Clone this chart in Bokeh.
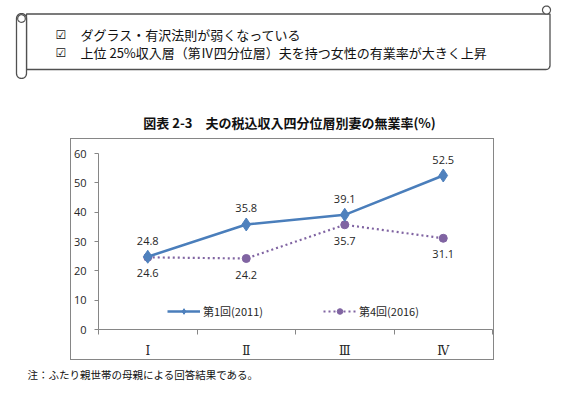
import numpy as np
from bokeh.plotting import figure
from bokeh.layouts import column, row
from bokeh.models import (Range1d, FixedTicker, ColumnDataSource, LabelSet,
                          Legend, LegendItem, Spacer)
from bokeh.core.properties import value
from bokeh.embed import file_html
from bokeh.resources import INLINE

# ---------------- data ----------------
categories = ["Ⅰ", "Ⅱ", "Ⅲ", "Ⅳ"]
series1_name = "第1回(2011)"
series1 = [24.8, 35.8, 39.1, 52.5]
series2_name = "第4回(2016)"
series2 = [24.6, 24.2, 35.7, 31.1]
y_ticks = [0, 10, 20, 30, 40, 50, 60]
title_text = "図表 2-3　夫の税込収入四分位層別妻の無業率(%)"
banner_lines = ["ダグラス・有沢法則が弱くなっている",
                "上位 25%収入層（第Ⅳ四分位層）夫を持つ女性の有業率が大きく上昇"]
check_mark = "☑"
note_text = "注：ふたり親世帯の母親による回答結果である。"

JP = "Noto Sans CJK JP"
BLUE = "#4A7EBB"
BLUE_FILL = "#4F81BD"
PURPLE = "#8064A2"
AXIS = "#868686"
DECO = "#505050"


def canvas_fig(w, h):
    """A figure whose frame is its whole canvas, in pixel units (y downward)."""
    f = figure(width=w, height=h, x_range=Range1d(0, w), y_range=Range1d(h, 0),
               x_axis_location=None, y_axis_location=None, title=None,
               output_backend="svg", toolbar_location=None, min_border=0)
    f.outline_line_color = None
    f.grid.visible = False
    f.background_fill_alpha = 0
    f.border_fill_alpha = 0
    return f


def arc(cx, cy, r, a0, a1, n=24):
    t = np.linspace(a0, a1, n)
    return list(cx + r * np.cos(t)), list(cy + r * np.sin(t))


# ---------------- top: banner + title ----------------
top = canvas_fig(566, 138)
ax, ay = arc(545.5, 65, 4, 0, np.pi / 2, 10)
top.patch([26, 549.5, 549.5] + ax + [26], [13.5, 13.5, 65] + ay + [69],
          fill_color="white", line_color=DECO, line_width=1.3)
cx_, cy_ = arc(546, 9.5, 4, 0, 2 * np.pi, 40)
top.patch(cx_, cy_, fill_color="white", line_color=DECO, line_width=1.2)
tx, ty = arc(21, 18, 5, np.pi, 2 * np.pi, 16)
bx, by = arc(21, 73, 5, 0, np.pi, 16)
top.patch(tx + bx, ty + by, fill_color="white", line_color=DECO, line_width=1.3)
lx, ly = arc(21, 18, 3.8, 0, 2 * np.pi, 40)
top.patch(lx, ly, fill_color="white", line_color=DECO, line_width=1.2)

rows_y = [34, 52]
top.text(x=[55] * len(banner_lines), y=rows_y, text=[check_mark] * len(banner_lines),
         text_font=value("DejaVu Sans"), text_font_size="12px", text_font_style="bold",
         text_baseline="middle", text_color="#111111")
top.text(x=[80] * len(banner_lines), y=rows_y, text=banner_lines,
         text_font=value(JP), text_font_size="13px", text_baseline="middle",
         text_color="#111111")
top.text(x=[289], y=[122], text=[title_text], text_font=value(JP), text_font_size="13px",
         text_font_style="bold", text_align="center", text_baseline="middle",
         text_color="#111111")

# ---------------- middle: chart (its box outline is the chart frame) ----------------
MID_H = 222
xs = [i + 0.5 for i in range(len(categories))]

p = figure(width=424, height=MID_H, x_range=Range1d(0, len(categories)),
           y_range=Range1d(y_ticks[0], y_ticks[-1]), title=None,
           output_backend="svg", toolbar_location=None,
           min_border_left=28, min_border_right=2, min_border_top=15, min_border_bottom=31,
           styles={"outline": f"1px solid {AXIS}", "outline-offset": "-1px"})
p.outline_line_color = None
p.grid.visible = False
p.background_fill_alpha = 0
p.border_fill_alpha = 0

p.yaxis.ticker = FixedTicker(ticks=y_ticks, minor_ticks=[])
p.yaxis.axis_line_color = AXIS
p.yaxis.major_tick_line_color = AXIS
p.yaxis.major_tick_out = 4
p.yaxis.major_tick_in = 0
p.yaxis.minor_tick_line_color = None
p.yaxis.major_label_text_font = "Open Sans"
p.yaxis.major_label_text_font_size = "11px"
p.yaxis.major_label_text_color = "#262626"
p.yaxis.major_label_standoff = 8

p.xaxis.ticker = FixedTicker(ticks=xs, minor_ticks=list(range(len(categories) + 1)))
p.xaxis.major_label_overrides = {x: c for x, c in zip(xs, categories)}
p.xaxis.axis_line_color = AXIS
p.xaxis.major_tick_line_color = None
p.xaxis.minor_tick_line_color = AXIS
p.xaxis.minor_tick_out = 5
p.xaxis.minor_tick_in = 0
p.xaxis.major_label_text_font = "DejaVu Serif"
p.xaxis.major_label_text_font_size = "12px"
p.xaxis.major_label_text_color = "#262626"
p.xaxis.major_label_standoff = 8

src = ColumnDataSource(dict(x=xs, s1=series1, s2=series2,
                            t1=[f"{v:.1f}" for v in series1],
                            t2=[f"{v:.1f}" for v in series2]))

l2 = p.line("x", "s2", source=src, line_color=PURPLE, line_width=2.2, line_dash="2 3")
m2 = p.scatter("x", "s2", source=src, marker="circle", size=8, fill_color=PURPLE, line_color=PURPLE)
l1 = p.line("x", "s1", source=src, line_color=BLUE, line_width=2.5)
m1 = p.scatter("x", "s1", source=src, marker="diamond", size=13, fill_color=BLUE_FILL, line_color=BLUE_FILL)

p.add_layout(LabelSet(x="x", y="s1", text="t1", source=src, y_offset=16, text_align="center",
                      text_baseline="middle", text_font=value("Open Sans"), text_font_size="11px",
                      text_color="#262626"))
p.add_layout(LabelSet(x="x", y="s2", text="t2", source=src, y_offset=-16, text_align="center",
                      text_baseline="middle", text_font=value("Open Sans"), text_font_size="11px",
                      text_color="#262626"))

legend = Legend(items=[LegendItem(label=series1_name, renderers=[l1, m1]),
                       LegendItem(label=series2_name, renderers=[l2, m2])],
                orientation="horizontal", location=(69, 10), padding=0, margin=0,
                spacing=60, glyph_width=33, glyph_height=14, label_standoff=3,
                label_text_font=JP, label_text_font_size="11px", label_text_color="#262626",
                border_line_color=None, background_fill_alpha=0)
p.add_layout(legend)

left = Spacer(width=70, height=MID_H)
right = Spacer(width=72, height=MID_H)

# ---------------- bottom: note ----------------
bottom = canvas_fig(566, 35)
bottom.text(x=[27], y=[14], text=[note_text], text_font=value(JP), text_font_size="10.5px",
            text_baseline="middle", text_color="#111111")

layout = column(top, row(left, p, right, spacing=0), bottom, spacing=0)
open("out.html", "w").write(file_html(layout, INLINE))
